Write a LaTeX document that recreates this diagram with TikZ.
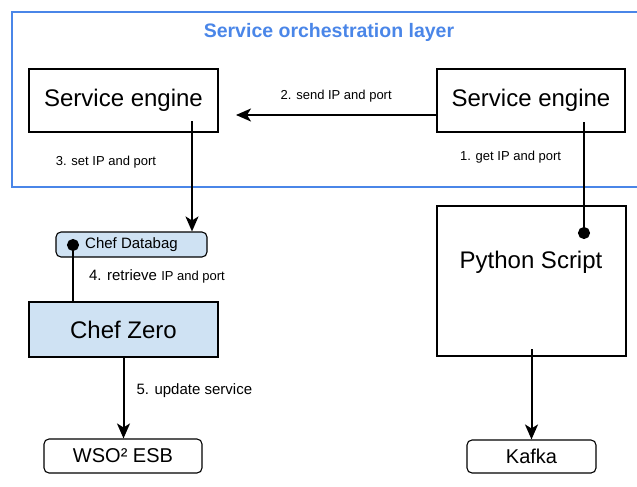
\documentclass[tikz,border=0pt]{standalone}
\usepackage{fontspec}
\setmainfont{Liberation Sans}
\usetikzlibrary{arrows.meta,positioning}
\definecolor{layerblue}{HTML}{4A86E8}
\definecolor{chefblue}{HTML}{CFE2F3}

\begin{document}
\begin{tikzpicture}[x=1pt, y=-1pt,
    box/.style={draw, line width=1.3pt, inner sep=0pt},
    pill/.style={draw, line width=1.1pt, rounded corners=5pt, inner sep=0pt},
    big/.style={font=\fontsize{24}{28}\selectfont},
    mid/.style={font=\fontsize{20}{24}\selectfont},
    note/.style={font=\fontsize{13}{16}\selectfont, inner sep=1pt},
    flow/.style={line width=2pt, -{Stealth[length=15pt, width=13pt, inset=4pt]}},
    tie/.style={line width=2pt}]
  \useasboundingbox (0,0) rectangle (637,487);

  % Orchestration layer (runs off the right edge)
  \draw[layerblue, line width=2.6pt] (645,12) -- (12,12) -- (12,187) -- (645,187);
  \node[font=\bfseries\fontsize{19.5}{23}\selectfont, text=layerblue] (layer) at (329,32) {Service orchestration layer};

  % Service engines
  \node[box, big, minimum width=189pt, minimum height=63pt] (seL) at (123.5,100.5) {Service engine};
  \node[box, big, minimum width=188pt, minimum height=63pt] (seR) at (531,100.5) {Service engine};

  % Chef side
  \node[pill, fill=chefblue, font=\fontsize{15}{18}\selectfont, minimum width=151pt, minimum height=25pt] (bag) at (131.5,244.5) {Chef Databag};
  \node[box, big, fill=chefblue, minimum width=189pt, minimum height=55pt] (zero) at (123.5,329.5) {Chef Zero};
  \node[pill, mid, minimum width=158pt, minimum height=34pt] (wso) at (123,456) {WSO² ESB};

  % Script side
  \node[box, minimum width=189pt, minimum height=150pt] (py) at (531.5,281) {};
  \node[big] (pytext) at (531,262) {Python Script};
  \node[pill, mid, minimum width=129pt, minimum height=33pt] (kafka) at (531.5,456.5) {Kafka};

  % Step 1 and 2
  \coordinate (seR-out) at (584,122);
  \coordinate (py-in) at (584,239);
  \draw[tie, -{Circle[length=12pt]}] (seR-out) -- (py-in) node[note, pos=0.3, left=21pt] {1. get IP and port};
  \coordinate (seL-in) at (236,115);
  \draw[flow] (seR.west |- seL-in) -- (seL-in) node[note, midway, yshift=19pt] {2. send IP and port};

  % Step 3 and 4
  \coordinate (seL-out) at (192,121);
  \draw[flow] (seL-out) -- (seL-out |- bag.north) node[note, pos=0.37, left=34pt] {3. set IP and port};
  \coordinate (bag-out) at (73,239);
  \draw[tie, {Circle[length=12pt]}-] (bag-out) -- (bag-out |- zero.north) node[note, font=\fontsize{15}{18}\selectfont, pos=0.6, right=14pt] {4. retrieve {\fontsize{13}{16}\selectfont IP and port}};

  % Step 5 and output
  \draw[flow] (zero.south) -- (zero.south |- wso.north) node[note, font=\fontsize{15}{18}\selectfont, pos=0.41, right=11pt] {5. update service};
  \coordinate (py-out) at (531.5,349);
  \draw[flow] (py-out) -- (kafka.north);
\end{tikzpicture}
\end{document}
